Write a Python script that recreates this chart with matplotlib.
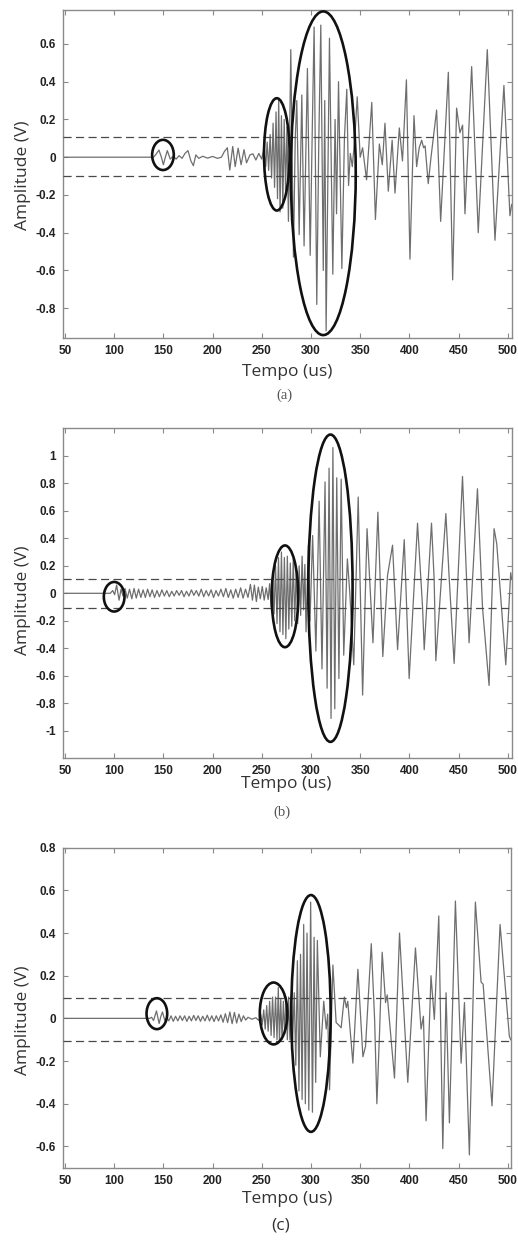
import matplotlib
matplotlib.use("Agg")
import matplotlib.pyplot as plt
from matplotlib.patches import Ellipse

# ---------------- data ----------------
# Panel (a)
time_a = [48, 140, 142.5, 145.5, 148, 150, 152, 154, 157, 160, 163, 166, 169, 172, 175, 178,
          180.5, 183, 186, 190, 195, 200, 205, 209, 212, 215, 217.5, 220.5, 223, 226, 229, 232,
          234.5, 238, 241, 244, 247, 250, 252, 254, 255.5, 257, 258.5, 260, 261.5, 263, 264.5,
          266, 267.2, 268.6, 270, 271.4, 272.8, 274.2, 275.6, 277.1, 279.5, 282.2, 284, 285.6,
          287, 288, 290.7, 293, 296.4, 299.2, 301.5, 303.2, 305.9, 308, 310, 312.5, 314, 315.4,
          318.8, 322.2, 324.5, 326, 328, 331.4, 334, 336.4, 338.2, 340, 342, 344.5, 347, 350,
          352.5, 356.5, 361.8, 365.5, 369.5, 372.5, 375.2, 378.6, 382.5, 385.4, 389.8, 393, 397,
          400.6, 404.7, 407.4, 410, 412.5, 414.5, 416, 419.2, 422, 427.7, 431.8, 439.6, 444, 448,
          451.4, 454.1, 456.5, 463.3, 470, 479.2, 487, 496.1, 502.2, 504]
amp_a = [0, 0, 0.015, 0.038, 0.0, -0.04, 0.0, 0.035, -0.01, 0.006, -0.01, 0.008, -0.006, 0.02,
         0.035, -0.02, -0.045, 0.012, -0.006, 0.005, -0.005, 0.004, -0.006, 0.0, 0.03, 0.05,
         -0.068, 0.057, -0.05, 0.048, -0.04, 0.04, -0.03, 0.012, 0.018, -0.015, 0.02, -0.01,
         0.045, -0.05, 0.08, -0.07, 0.12, -0.11, 0.18, -0.16, 0.24, -0.22, 0.31, -0.29, 0.22,
         -0.27, 0.2, -0.18, 0.16, -0.34, 0.57, -0.53, 0.1, 0.3, -0.1, -0.41, 0.33, -0.47, 0.47,
         -0.52, 0.2, 0.69, -0.78, 0.1, 0.70, -0.6, 0.3, -0.92, 0.63, -0.62, 0.2, -0.3, 0.40,
         -0.59, 0.1, 0.36, -0.15, 0.02, -0.05, 0.10, 0.32, 0.0, 0.05, -0.12, 0.29, -0.33, 0.07,
         -0.04, 0.18, -0.18, 0.09, -0.19, 0.155, -0.02, 0.41, -0.54, 0.22, -0.05, 0.05, 0.09,
         0.05, 0.06, -0.14, 0.0, 0.25, -0.34, 0.45, -0.65, 0.26, 0.13, 0.17, -0.3, 0.48, -0.40,
         0.57, -0.44, 0.38, -0.31, -0.25]

# Panel (b)
time_b = [48, 93, 96, 98.5, 100.5, 102.5, 105, 107, 109,
          111.0, 113.3, 115.6, 117.9, 120.2, 122.5, 124.8, 127.1, 129.4, 131.7, 134.0, 136.3,
          138.6, 141.0, 143.5, 146.0, 148.5, 151.0, 153.5, 156.0, 158.5, 161.0, 163.5, 166.0,
          168.5, 171.0, 173.5, 176.0, 178.5, 181.0, 183.5, 186.0, 188.5, 191.0, 193.5, 196.0,
          198.5, 201.0, 203.5, 206.0, 208.5, 211.0, 213.5, 216.0, 218.5, 221.0, 223.5, 226.0,
          228.5, 231.0, 233.5, 236.0, 238.5, 240.5, 242.5, 244.5, 246.5, 248.5, 250.5, 252.5,
          254.5, 256.5, 258.0,
          259.5, 261, 262.5, 264, 265.5, 267, 268.5, 270, 271.5, 273, 274.5, 276, 277.5, 279,
          280.5, 282, 283.5, 285, 286.5, 288, 289.5, 291, 292.5, 293.8, 295, 297.3, 299,
          301.7, 305, 308.3, 311.2, 314.3, 316.4, 318.4, 320.4, 322.3, 324.2, 326.2, 328.4,
          330.7, 333.3, 337, 339.5, 343.5, 348, 352.5, 357, 363, 368, 373, 377.8, 382.9, 388,
          394.8, 399.8, 408.3, 413.4, 415.1, 422.5, 425.2, 426.9, 437.1, 440.4, 445.5, 454,
          460.7, 469.2, 474.3, 481, 486.1, 488.8, 498, 503, 504]
amp_b = [0, 0, 0.0, 0.02, -0.01, 0.06, -0.05, 0.03, -0.02,
         0.035, -0.035, 0.03, -0.04, 0.035, -0.035, 0.03, -0.03, 0.025, -0.03, 0.03, -0.025,
         0.025, -0.03, 0.02, -0.025, 0.025, -0.02, 0.02, -0.025, 0.015, -0.02, 0.02, -0.015,
         0.02, -0.025, 0.015, -0.02, 0.025, -0.015, 0.02, -0.02, 0.03, -0.025, 0.02, -0.02,
         0.025, -0.03, 0.02, -0.02, 0.03, -0.025, 0.035, -0.03, 0.025, -0.035, 0.03, -0.03,
         0.04, -0.035, 0.03, -0.03, 0.065, -0.05, 0.06, -0.06, 0.045, -0.04, 0.05, -0.05,
         0.04, -0.045, 0.07,
         -0.1, 0.14, -0.15, 0.2, -0.22, 0.26, -0.28, 0.30, -0.3, 0.26, -0.33, 0.27, -0.26, 0.22,
         -0.24, 0.25, -0.2, 0.18, -0.22, 0.2, -0.16, 0.27, -0.12, 0.21, -0.28, 0.35, -0.2,
         0.42, -0.42, 0.67, -0.55, 0.81, -0.69, 0.91, -0.91, 1.06, -0.84, 0.84, -0.62,
         0.83, -0.45, 0.25, 0.0, -0.52, 0.70, -0.74, 0.47, -0.36, 0.59, -0.46, 0.13, 0.35, -0.41,
         0.39, -0.62, 0.51, -0.1, -0.41, 0.51, 0.1, -0.49, 0.58, 0.12, -0.51, 0.85,
         -0.36, 0.76, -0.1, -0.67, 0.47, 0.36, -0.52, 0.15, 0.1]

# Panel (c)
time_c = [48, 136, 138, 140, 143, 145.7, 147.5, 149.1, 151.5, 153.5,
          155.5, 157.8, 160.1, 162.4, 164.7, 167, 169.3, 171.6, 173.9, 176.2, 178.5, 180.8,
          183.1, 185.4, 187.7, 190, 192.3, 194.6, 196.9, 199.2, 201.5, 203.8, 206.1, 208.4,
          210.7, 213, 215.3, 217.6, 219.9, 222.2, 224.5, 226.8, 229.1, 231.4, 233.7, 236, 240,
          244, 247,
          249, 250.5, 252, 253.5, 255, 256.5, 258, 259.5, 261, 262.5, 264, 265.5, 266.8, 268,
          269.3, 270.6, 272, 273.3, 274.7, 276, 277.3, 278.6, 280, 281.4,
          283.0, 284.6, 286.2, 287.8, 289.4, 291.0, 292.6, 294.3, 296.0, 297.8, 299.7, 301.5,
          303.2, 304.8, 306.5, 309.5, 313, 315.5, 317, 318.9, 322.3, 325.6, 328, 330.7, 333,
          334, 336, 337.4, 342.6, 347.7, 352.8, 355.5, 361.3, 364.7, 367, 369.7, 372.4, 375.8,
          377.5, 384.9, 390, 398.4, 406.2, 411.9, 414.3, 417, 422, 425.4, 429.9, 434, 437.3,
          440.7, 446.8, 452.6, 456, 461, 467.1, 472.9, 475, 484, 492.2, 501.6, 503]
amp_c = [0, 0, 0.005, -0.01, 0.035, -0.024, 0.01, 0.03, -0.01, 0.005,
         -0.012, 0.012, -0.014, 0.01, -0.012, 0.012, -0.01, 0.012, -0.014, 0.01, -0.012, 0.014,
         -0.01, 0.012, -0.014, 0.01, -0.012, 0.015, -0.012, 0.012, -0.015, 0.012, -0.012, 0.016,
         -0.018, 0.022, -0.02, 0.03, -0.025, 0.028, -0.022, 0.02, -0.015, 0.012, -0.008, 0.005,
         -0.004, 0.003, -0.01,
         0.02, -0.03, 0.04, -0.05, 0.06, -0.06, 0.08, -0.08, 0.1, -0.09, 0.1, -0.1, 0.145, -0.11,
         0.09, -0.1, 0.08, -0.07, 0.1, -0.1, 0.1, -0.1, 0.11, -0.1,
         0.12, -0.22, 0.27, -0.34, 0.30, -0.38, 0.44, -0.40, 0.40, -0.43, 0.545, -0.44,
         0.38, -0.30, 0.365, -0.18, 0.08, -0.05, 0.02, -0.335, 0.25, -0.02, -0.03, -0.044, 0.06,
         0.10, 0.05, 0.08, -0.21, 0.23, -0.18, -0.13, 0.35, -0.005, -0.40, -0.068, 0.31, 0.074,
         0.11, -0.28, 0.40, -0.30, 0.33, -0.05, 0.01, -0.48, 0.2, -0.005, 0.48, -0.61, 0.12,
         -0.49, 0.55, -0.21, 0.074, -0.64, 0.545, 0.17, 0.16, -0.41, 0.44, -0.083, -0.1]

# threshold lines (upper, lower)
thresholds_a = [0.108, -0.100]
thresholds_b = [0.105, -0.105]
thresholds_c = [0.097, -0.104]

# highlighted regions: (centre time, centre amplitude, width in us, height in V)
ellipses_a = [(149.6, 0.012, 22, 0.16), (265.3, 0.015, 26, 0.595), (312.5, -0.085, 66, 1.715)]
ellipses_b = [(100.0, -0.025, 21, 0.215), (273.6, -0.022, 27, 0.74), (319.8, 0.037, 45, 2.235)]
ellipses_c = [(143.4, 0.022, 21, 0.145), (262.0, 0.023, 28, 0.29), (300.0, 0.023, 40, 1.11)]

x_ticks = [50, 100, 150, 200, 250, 300, 350, 400, 450, 500]
y_ticks_a = [-0.8, -0.6, -0.4, -0.2, 0, 0.2, 0.4, 0.6]
y_ticks_b = [-1, -0.8, -0.6, -0.4, -0.2, 0, 0.2, 0.4, 0.6, 0.8, 1]
y_ticks_c = [-0.6, -0.4, -0.2, 0, 0.2, 0.4, 0.6, 0.8]

# ---------------- drawing ----------------
W, H = 518, 1249
fig = plt.figure(figsize=(W / 100, H / 100), dpi=100)
fig.patch.set_facecolor("white")

FRAME = "#8a8a8a"
LABEL_FONT = ["Open Sans", "DejaVu Sans"]
TICK_FONT = ["Liberation Sans", "DejaVu Sans"]
SERIF = ["Liberation Serif", "DejaVu Serif"]


def fmt(v):
    return "%g" % v


def panel(left, top, right, bottom, t, v, xlim, ylim, yticks, thr, ells):
    ax = fig.add_axes([left / W, 1 - bottom / H, (right - left) / W, (bottom - top) / H])
    ax.plot(t, v, color="#6e6e6e", lw=0.9, zorder=2)
    for y in thr:
        ax.axhline(y, color="#4a4a4a", lw=0.9, ls=(0, (6.5, 3.5)), zorder=3)
    for (cx, cy, w, h) in ells:
        ax.add_patch(Ellipse((cx, cy), w, h, fill=False, edgecolor="#111111", lw=1.9, zorder=4))
    ax.set_xlim(*xlim)
    ax.set_ylim(*ylim)
    ax.set_xticks(x_ticks)
    ax.set_xticklabels([fmt(x) for x in x_ticks])
    ax.set_yticks(yticks)
    ax.set_yticklabels([fmt(y) for y in yticks])
    ax.tick_params(direction="in", length=3.5, width=0.8, color=FRAME, top=True, right=True,
                   labelsize=8.5, labelcolor="#222222", pad=5)
    for lab in ax.get_xticklabels() + ax.get_yticklabels():
        lab.set_family(TICK_FONT)
        lab.set_fontweight("bold")
    for s in ax.spines.values():
        s.set_color(FRAME)
        s.set_linewidth(1.0)
    return ax


panel(62.7, 10, 511.7, 338, time_a, amp_a, (47.7, 504), (-0.958, 0.78), y_ticks_a,
      thresholds_a, ellipses_a)
panel(62.7, 428.3, 511.7, 758.3, time_b, amp_b, (47.7, 504), (-1.2, 1.2), y_ticks_b,
      thresholds_b, ellipses_b)
panel(62.7, 847.7, 510.7, 1167.7, time_c, amp_c, (47.7, 503), (-0.70, 0.80), y_ticks_c,
      thresholds_c, ellipses_c)


def ftext(x, y, s, **kw):
    fig.text(x / W, 1 - y / H, s, ha="center", va="center", **kw)


for yc in (175, 600, 1020):
    ftext(23, yc, "Amplitude (V)", rotation=90, fontsize=12.5, family=LABEL_FONT, color="#333333")

ftext(287, 372, "Tempo (us)", fontsize=12.5, family=LABEL_FONT, color="#333333")
ftext(284, 395, "(a)", fontsize=10.5, family=SERIF, color="#555555")
ftext(286, 784, "Tempo (us)", fontsize=12.5, family=LABEL_FONT, color="#333333")
ftext(282, 812, "(b)", fontsize=10.5, family=SERIF, color="#555555")
ftext(287, 1199, "Tempo (us)", fontsize=12.5, family=LABEL_FONT, color="#333333")
ftext(281, 1225, "(c)", fontsize=12.5, family=LABEL_FONT, color="#333333")

fig.savefig("out.png", dpi=100, facecolor="white")
